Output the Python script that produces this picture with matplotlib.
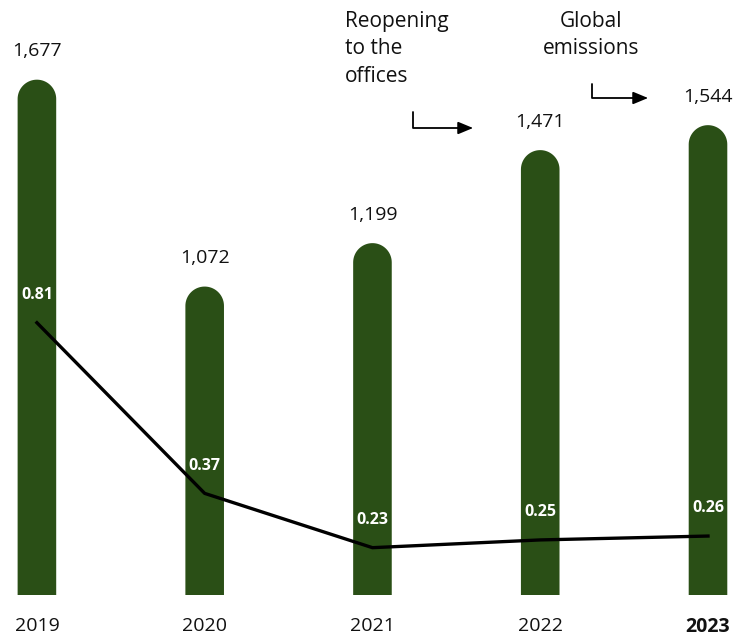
import numpy as np
import matplotlib.pyplot as plt
from matplotlib.patches import PathPatch, FancyArrowPatch
from matplotlib.path import Path

plt.rcParams['font.family'] = ['Open Sans', 'DejaVu Sans']

years = ["2019", "2020", "2021", "2022", "2023"]
emissions = [1677, 1072, 1199, 1471, 1544]
intensity = [0.81, 0.37, 0.23, 0.25, 0.26]

GREEN = "#2a4f16"
W, H = 734, 636


def fpx(x, y):
    # pixel position (top-left origin) -> figure fraction
    return x / W, 1 - y / H


fig = plt.figure(figsize=(W / 100, H / 100), dpi=100)
ax = fig.add_axes([0, 41 / H, 1, 1 - 41 / H])
ax.set_xlim(-0.22, 4.155)
ax.set_ylim(170, 1910)
for s in ax.spines.values():
    s.set_visible(False)
ax.set_yticks([])

xs = list(range(len(years)))
bw = 0.23

# round top: radius in y data units equal to half the bar width on screen
fig.canvas.draw()
p0 = ax.transData.transform((0, 0))
p1 = ax.transData.transform((bw / 2, 0))
r_px = p1[0] - p0[0]
ax_h_px = ax.get_window_extent().height
y0, y1 = ax.get_ylim()
r_y = r_px * (y1 - y0) / ax_h_px

t = np.linspace(np.pi, 0, 40)
for x, v in zip(xs, emissions):
    cy = v - r_y
    verts = [(x - bw / 2, 0), (x - bw / 2, cy)]
    verts += list(zip(x + bw / 2 * np.cos(t), cy + r_y * np.sin(t)))
    verts += [(x + bw / 2, cy), (x + bw / 2, 0), (x - bw / 2, 0)]
    ax.add_patch(PathPatch(Path(verts), facecolor=GREEN, edgecolor="none", zorder=2))
    ax.annotate(f"{v:,}", (x, v), xytext=(0, 14), textcoords="offset points",
                ha="center", va="bottom", fontsize=14, color="#111111")

ax.set_xticks(xs, years)
ax.tick_params(axis="x", length=0, pad=16, labelsize=14, colors="#111111")
ax.get_xticklabels()[-1].set_fontweight("bold")

ax2 = ax.twinx()
ax2.set_ylim(0.108, 1.642)
ax2.axis("off")
ax2.plot(xs, intensity, color="black", linewidth=2.4, zorder=3)
for x, v in zip(xs, intensity):
    ax2.annotate(f"{v:.2f}", (x, v), xytext=(0, 20), textcoords="offset points",
                 ha="center", va="center", fontsize=11.5, fontweight="bold", color="white")

# annotations with bent arrows
fig.text(*fpx(345, 11), "Reopening\nto the\noffices", ha="left", va="top",
         fontsize=15, linespacing=1.4, color="#111111")
fig.text(*fpx(591, 11), "Global\nemissions", ha="center", va="top",
         fontsize=15, linespacing=1.4, color="#111111")

for pts in ([(413, 112), (413, 128), (473, 128)], [(592, 84), (592, 98), (648, 98)]):
    path = Path([fpx(*p) for p in pts], [Path.MOVETO, Path.LINETO, Path.LINETO])
    arr = FancyArrowPatch(path=path, arrowstyle="-|>,head_length=0.6,head_width=0.25",
                          mutation_scale=15, color="black", linewidth=1.3,
                          transform=fig.transFigure)
    fig.add_artist(arr)

fig.savefig("out.png", dpi=100)
